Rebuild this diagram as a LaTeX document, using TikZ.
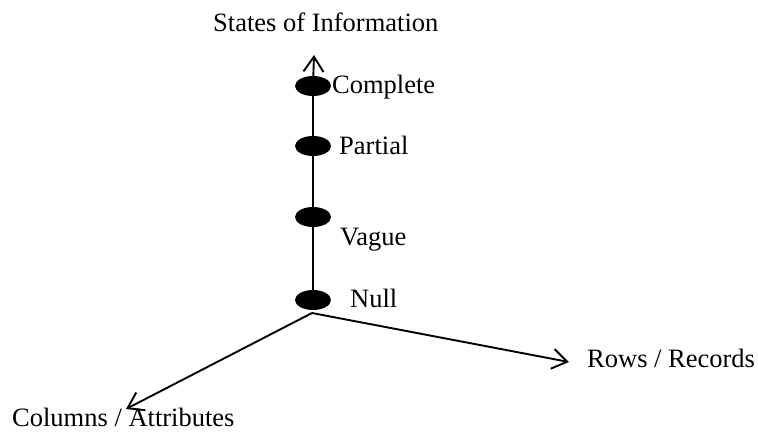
\documentclass[tikz,border=0pt]{standalone}
\usepackage{fontspec}
\setmainfont{Liberation Serif}
\usetikzlibrary{shapes.geometric,arrows.meta}
\begin{document}
\begin{tikzpicture}[x=1pt,y=-1pt,
  dot/.style={ellipse,fill=black,draw=none,minimum width=36pt,minimum height=20pt,inner sep=0pt},
  lbl/.style={anchor=base west,inner sep=0pt,font=\fontsize{26.5pt}{30pt}\selectfont},
  axis/.style={line width=1.9pt,-{Straight Barb[length=15pt,width=20pt,line width=1.9pt]}},
  plain/.style={line width=1.9pt}]
\useasboundingbox (0,0) rectangle (758,432);
\node[dot] (complete) at (313,86) {};
\node[dot] (partial) at (313,146) {};
\node[dot] (vague) at (313,217) {};
\node[dot] (null) at (313,300) {};
\coordinate (origin) at (312,313);
\coordinate (top) at (314,55);
\coordinate (rows) at (569,362);
\coordinate (cols) at (126,409);
\draw[plain] (null.center) -- (complete.center);
\draw[axis] (complete.center) -- (top);
\draw[axis] (origin) -- (rows);
\draw[axis] (origin) -- (cols);
\node[lbl] (tstates) at (213,31) {States of Information};
\node[lbl] (tcomplete) at (332,93) {Complete};
\node[lbl] (tpartial) at (339,154) {Partial};
\node[lbl] (tvague) at (340,245) {Vague};
\node[lbl] (tnull) at (350,307) {Null};
\node[lbl] (trows) at (587,367) {Rows / Records};
\node[lbl] (tcols) at (12,426) {Columns / Attributes};
\end{tikzpicture}
\end{document}
